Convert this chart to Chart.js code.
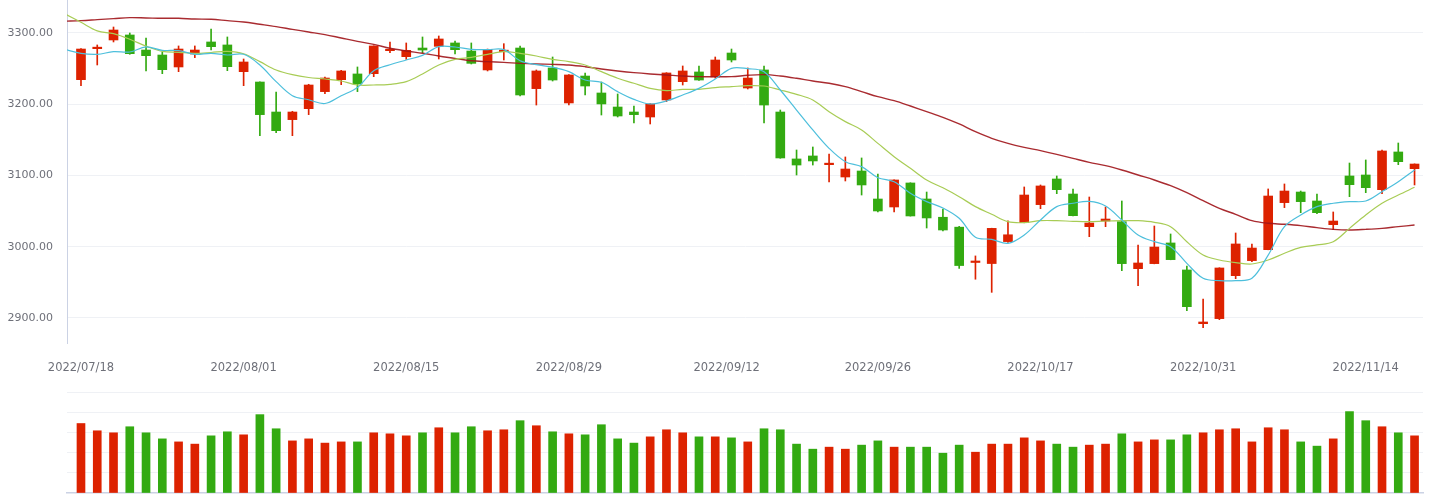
<!DOCTYPE html>
<html lang="en">
<head>
<meta charset="UTF-8">
<title>K-line</title>
<script src="https://cdn.jsdelivr.net/npm/chart.js"></script>
<style>
  html, body { margin: 0; padding: 0; background: #fff; }
  #wrap { position: relative; width: 1438px; height: 495px; }
  #priceChart { position: absolute; left: 0; top: 0; }
  #volChart { position: absolute; left: 0; top: 385px; }
</style>
</head>
<body>
<div id="wrap">
  <canvas id="priceChart" width="1438" height="385"></canvas>
  <canvas id="volChart" width="1438" height="110"></canvas>
</div>
<script>
// daily candles: open, close, low, high
const opens = [3234.5, 3278.0, 3290.2, 3297.2, 3276.1, 3269.1, 3252.3, 3270.5, 3287.4, 3283.2,
  3245.7, 3231.2, 3189.1, 3178.4, 3193.8, 3217.7, 3234.5, 3242.5, 3242.9, 3275.2,
  3266.8, 3278.9, 3281.3, 3286.0, 3274.7, 3248.1, 3273.8, 3278.9, 3221.9, 3250.9,
  3201.8, 3239.6, 3215.8, 3196.1, 3189.1, 3182.1, 3206.0, 3231.7, 3245.3, 3238.2,
  3271.9, 3222.8, 3248.1, 3189.1, 3123.2, 3127.4, 3115.2, 3097.9, 3106.3, 3067.0,
  3055.8, 3089.5, 3067.0, 3041.4, 3027.5, 2977.9, 2976.4, 3007.2, 3033.8, 3059.1,
  3095.1, 3074.0, 3028.2, 3036.1, 3035.2, 2969.2, 2976.3, 3005.3, 2967.4, 2892.0,
  2899.1, 2959.4, 2980.5, 2995.9, 3061.9, 3076.8, 3064.2, 3031.0, 3099.3, 3100.7,
  3080.1, 3133.0, 3109.6];
const closes = [3277.5, 3279.0, 3304.2, 3271.0, 3268.2, 3248.5, 3277.5, 3276.1, 3280.8, 3252.7,
  3259.3, 3185.4, 3162.9, 3189.1, 3227.0, 3236.8, 3246.7, 3228.4, 3281.8, 3276.6,
  3275.7, 3276.1, 3291.6, 3276.6, 3257.4, 3277.1, 3275.2, 3213.0, 3246.7, 3234.0,
  3241.1, 3225.6, 3200.4, 3183.5, 3185.4, 3200.4, 3243.9, 3246.7, 3234.0, 3262.1,
  3262.1, 3236.8, 3198.9, 3124.6, 3114.7, 3120.4, 3117.1, 3109.1, 3086.7, 3050.2,
  3093.7, 3043.2, 3040.4, 3023.5, 2973.6, 2979.3, 3025.8, 3016.8, 3072.6, 3085.3,
  3080.1, 3043.6, 3033.3, 3038.9, 2976.3, 2977.2, 2999.6, 2981.9, 2915.9, 2894.4,
  2970.2, 3003.9, 2998.2, 3071.2, 3078.2, 3063.3, 3047.8, 3036.1, 3087.1, 3082.9,
  3134.4, 3119.4, 3116.1];
const lows = [3226.1, 3255.1, 3287.4, 3270.1, 3246.7, 3242.9, 3245.7, 3265.4, 3276.1, 3247.1,
  3226.1, 3155.9, 3160.1, 3155.9, 3185.4, 3214.9, 3227.5, 3217.7, 3238.7, 3272.4,
  3263.0, 3272.4, 3263.5, 3270.5, 3256.5, 3246.7, 3262.1, 3211.6, 3198.9, 3232.6,
  3198.9, 3213.0, 3184.9, 3182.1, 3173.7, 3172.3, 3203.6, 3227.0, 3233.6, 3236.8,
  3259.3, 3221.4, 3173.7, 3124.2, 3100.7, 3114.7, 3090.9, 3092.3, 3072.6, 3048.8,
  3048.8, 3043.0, 3026.3, 3022.1, 2969.6, 2954.4, 2936.0, 3005.9, 3033.6, 3053.4,
  3074.5, 3043.4, 3014.1, 3028.2, 2966.4, 2945.4, 2976.0, 2981.7, 2910.3, 2886.4,
  2897.7, 2955.2, 2979.1, 2995.7, 3054.9, 3047.8, 3046.4, 3024.0, 3070.3, 3075.9,
  3074.5, 3115.2, 3086.7];
const highs = [3278.0, 3283.2, 3308.4, 3300.0, 3293.0, 3272.9, 3281.8, 3281.8, 3305.6, 3294.4,
  3263.5, 3231.5, 3217.2, 3190.1, 3228.0, 3238.2, 3247.6, 3252.3, 3282.0, 3287.4,
  3286.0, 3294.4, 3295.8, 3288.8, 3286.0, 3277.5, 3285.0, 3281.8, 3248.1, 3266.3,
  3241.5, 3243.9, 3231.2, 3214.4, 3197.5, 3200.8, 3244.3, 3253.7, 3253.7, 3266.3,
  3277.5, 3250.9, 3253.7, 3191.9, 3135.8, 3140.0, 3130.2, 3126.0, 3124.6, 3102.1,
  3094.0, 3089.8, 3076.8, 3053.0, 3028.6, 2987.1, 3026.0, 3036.2, 3083.9, 3086.7,
  3099.3, 3081.1, 3069.8, 3055.8, 3064.2, 3002.5, 3029.1, 3017.9, 2972.9, 2926.7,
  2970.5, 3019.3, 3003.9, 3081.1, 3088.1, 3078.2, 3074.0, 3048.8, 3117.5, 3121.8,
  3135.8, 3145.6, 3116.3];

// volume (one grid step = 100)
const volumes = [344, 308, 298, 328, 298, 268, 253, 242, 283, 303,
  288, 388, 318, 258, 268, 247, 253, 253, 298, 293,
  283, 298, 323, 298, 328, 308, 313, 358, 333, 303,
  293, 288, 338, 268, 247, 278, 313, 298, 278, 278,
  273, 253, 318, 313, 242, 217, 227, 217, 237, 258,
  227, 227, 227, 197, 237, 202, 242, 242, 273, 258,
  242, 227, 237, 242, 293, 253, 263, 263, 288, 298,
  313, 318, 253, 323, 313, 253, 232, 268, 403, 358,
  328, 298, 283];

// moving averages, first value belongs to the day before the first candle
const ma5 = [3277.0, 3271.5, 3270.1, 3273.8, 3273.3, 3280.4, 3275.7, 3275.2, 3270.1, 3271.5, 3269.1,
  3270.1, 3255.1, 3231.7, 3212.0, 3206.3, 3201.0, 3212.0, 3223.5, 3247.0, 3255.5,
  3262.1, 3268.6, 3280.8, 3280.3, 3277.1, 3276.6, 3276.6, 3261.0, 3255.5, 3252.0,
  3245.7, 3234.0, 3230.8, 3217.7, 3206.9, 3200.4, 3204.6, 3213.0, 3222.3, 3235.4,
  3250.4, 3249.9, 3245.7, 3220.0, 3191.9, 3163.9, 3138.1, 3119.4, 3112.4, 3096.9,
  3091.3, 3075.0, 3063.3, 3054.4, 3039.9, 3013.2, 3010.4, 3004.8, 3016.5, 3037.5,
  3056.3, 3061.0, 3063.7, 3057.2, 3037.5, 3016.5, 3007.1, 3000.1, 2976.7, 2955.7,
  2952.4, 2952.4, 2955.7, 2988.3, 3028.1, 3044.6, 3056.3, 3061.0, 3063.3, 3064.2,
  3077.3, 3091.3, 3107.7];
const ma10 = [3327.0, 3315.0, 3303.0, 3299.0, 3291.3, 3281.5, 3274.2, 3272.9, 3271.5, 3272.6, 3274.2,
  3270.8, 3259.8, 3248.1, 3241.5, 3237.5, 3235.4, 3232.6, 3227.0, 3227.0, 3228.0,
  3231.7, 3242.5, 3255.1, 3263.0, 3265.8, 3270.1, 3273.8, 3271.5, 3267.7, 3263.0,
  3259.8, 3255.1, 3245.7, 3236.4, 3229.4, 3222.3, 3219.1, 3220.9, 3220.9, 3223.3,
  3224.7, 3226.1, 3225.6, 3220.0, 3213.9, 3206.0, 3189.6, 3175.6, 3163.9, 3145.1,
  3126.4, 3110.1, 3093.7, 3082.7, 3070.3, 3056.3, 3045.6, 3035.2, 3033.8, 3036.6,
  3036.6, 3035.7, 3035.2, 3036.1, 3036.6, 3036.6, 3034.3, 3028.2, 3007.1, 2988.4,
  2981.4, 2977.7, 2975.8, 2981.4, 2990.8, 2999.2, 3002.5, 3007.1, 3025.8, 3044.6,
  3061.0, 3072.6, 3083.4];
const ma30 = [3316.6, 3317.3, 3318.7, 3320.1, 3321.5, 3321.1, 3320.6, 3320.6, 3319.6, 3319.2, 3317.3,
  3315.4, 3312.2, 3308.9, 3305.1, 3301.4, 3297.7, 3293.0, 3288.3, 3284.1, 3278.5,
  3274.7, 3271.5, 3267.7, 3264.4, 3261.0, 3259.8, 3258.8, 3257.4, 3256.5, 3256.0,
  3255.1, 3252.7, 3249.5, 3246.7, 3244.3, 3242.5, 3241.1, 3239.6, 3238.7, 3238.7,
  3238.7, 3240.6, 3241.5, 3239.6, 3236.4, 3232.6, 3229.4, 3224.7, 3217.7, 3210.6,
  3205.0, 3197.5, 3189.6, 3181.6, 3172.3, 3161.5, 3152.2, 3145.1, 3139.5, 3134.9,
  3129.7, 3124.1, 3118.5, 3113.8, 3107.7, 3100.7, 3093.7, 3085.7, 3075.9, 3064.7,
  3053.9, 3045.5, 3036.6, 3032.9, 3031.5, 3029.6, 3026.8, 3024.4, 3023.5, 3024.4,
  3025.8, 3028.2, 3030.5];

// axis labels
const dateTickPos = [0, 10, 20, 30, 39.7, 49, 59, 69, 79];
const dateTickText = ['2022/07/18', '2022/08/01', '2022/08/15', '2022/08/29', '2022/09/12',
  '2022/09/26', '2022/10/17', '2022/10/31', '2022/11/14'];
const priceTicks = [2900, 3000, 3100, 3200, 3300];
const volTicks = [0, 100, 200, 300, 400, 500];

const UP = '#dd2200', DOWN = '#33aa11';
const GRID = '#eff1f5', AXIS = '#cbd2e4', LABEL = '#6e7079';
const X_MIN = -0.86, X_MAX = 82.52;

const isUp = i => closes[i] >= opens[i];
const colorAt = ctx => isUp(ctx.dataIndex) ? UP : DOWN;

const bodies = opens.map((o, i) => ({ x: i, y: [o, closes[i]] }));
const wicks = lows.map((l, i) => ({ x: i, y: [l, highs[i]] }));
const maPoints = arr => arr.map((v, i) => ({ x: i - 1, y: v }));

function lineSet(label, data, color, width) {
  return {
    type: 'line', label, data: maPoints(data), borderColor: color, borderWidth: width,
    pointRadius: 0, tension: 0.35, fill: false, order: 0
  };
}

function noPadding(scale) {
  scale.paddingTop = 0; scale.paddingBottom = 0;
  scale.paddingLeft = 0; scale.paddingRight = 0;
}

Chart.defaults.font.family = 'DejaVu Sans';

new Chart(document.getElementById('priceChart'), {
  type: 'bar',
  data: {
    datasets: [
      lineSet('MA5', ma5, '#4dbfdc', 1.2),
      lineSet('MA10', ma10, '#a8cc55', 1.2),
      lineSet('MA30', ma30, 'rgba(160,20,26,0.9)', 1.4),
      { label: 'body', data: bodies, backgroundColor: colorAt, barThickness: 9,
        minBarLength: 1.5, grouped: false, order: 1 },
      { label: 'wick', data: wicks, backgroundColor: colorAt, barThickness: 1,
        grouped: false, order: 2 }
    ]
  },
  options: {
    responsive: false, animation: false, devicePixelRatio: 1,
    layout: { padding: { left: 0, right: 15, top: 0, bottom: 0 } },
    plugins: { legend: { display: false }, tooltip: { enabled: false } },
    scales: {
      x: {
        type: 'linear', min: X_MIN, max: X_MAX, offset: false,
        grid: { display: false, drawTicks: false }, border: { display: false },
        afterBuildTicks: s => { s.ticks = dateTickPos.map(v => ({ value: v })); },
        afterFit: s => { noPadding(s); s.height = 42; },
        ticks: {
          padding: 18, maxRotation: 0, autoSkip: false, color: LABEL,
          font: { size: 11.5 },
          callback: (v, i) => dateTickText[i]
        }
      },
      y: {
        min: 2864.9, max: 3346.3,
        grid: { color: GRID, drawTicks: false },
        border: { display: true, color: AXIS, width: 1 },
        afterBuildTicks: s => { s.ticks = priceTicks.map(v => ({ value: v })); },
        afterFit: s => { noPadding(s); s.width = 67; },
        ticks: { padding: 14, color: LABEL, font: { size: 11 }, callback: v => v.toFixed(2) }
      }
    }
  }
});

new Chart(document.getElementById('volChart'), {
  type: 'bar',
  data: {
    datasets: [{
      label: 'volume', data: volumes.map((v, i) => ({ x: i, y: v })),
      backgroundColor: colorAt, barThickness: 8
    }]
  },
  options: {
    responsive: false, animation: false, devicePixelRatio: 1,
    layout: { padding: { left: 0, right: 15, top: 7, bottom: 2 } },
    plugins: { legend: { display: false }, tooltip: { enabled: false } },
    scales: {
      x: {
        type: 'linear', min: X_MIN, max: X_MAX, offset: false,
        grid: { display: false, drawTicks: false },
        border: { display: true, color: AXIS, width: 1.5 },
        ticks: { display: false },
        afterFit: s => { noPadding(s); s.height = 0; }
      },
      y: {
        min: 0, max: 500,
        grid: { color: c => c.tick.value === 0 ? 'rgba(0,0,0,0)' : GRID, drawTicks: false },
        border: { display: false },
        afterBuildTicks: s => { s.ticks = volTicks.map(v => ({ value: v })); },
        afterFit: s => { noPadding(s); s.width = 67; },
        ticks: { display: false }
      }
    }
  }
});
</script>
</body>
</html>
